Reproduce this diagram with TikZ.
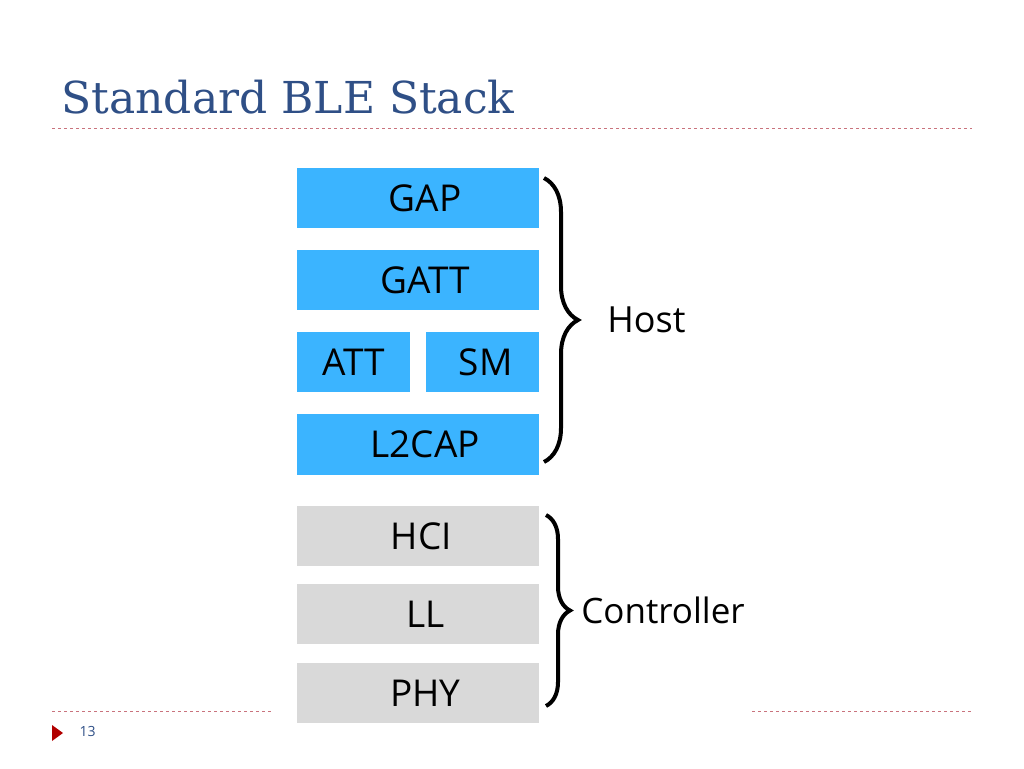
\documentclass[tikz,border=0pt]{standalone}
\usepackage{fontspec}
\setmainfont{DejaVu Serif}
\newfontfamily\labelfont{Open Sans}
\usetikzlibrary{decorations.pathreplacing}
\definecolor{titleblue}{HTML}{2F4F86}
\definecolor{layerblue}{HTML}{3BB4FF}
\definecolor{layergray}{HTML}{D9D9D9}
\definecolor{rulered}{HTML}{C9737D}
\tikzset{
  layer/.style={draw=none,anchor=north west,inner sep=0,font=\labelfont\fontsize{37}{40}\selectfont},
  host/.style={layer,fill=layerblue},
  ctrl/.style={layer,fill=layergray},
  bracket/.style={decorate,decoration={brace,amplitude=#1},line width=4pt},
  rule/.style={rulered,dashed,line width=0.8pt}
}
\begin{document}
\begin{tikzpicture}[x=1pt,y=-1pt]
  \useasboundingbox (0,0) rectangle (1024,768);
  % title and rules
  \node[anchor=west,titleblue,font=\fontsize{44}{50}\selectfont] (title) at (58,97) {Standard BLE Stack};
  \draw[rule] (52,128) -- (972,128);
  \draw[rule] (52,711) -- (272,711);
  \draw[rule] (752,711) -- (972,711);
  \fill[red!70!black] (52,725) -- (63,733) -- (52,741) -- cycle;
  \node[anchor=west,titleblue,font=\labelfont\fontsize{14}{16}\selectfont] (page) at (76,731) {13};
  % host layers
  \node[host,minimum width=242,minimum height=60] (gap) at (297,168) {\hspace{14pt}GAP};
  \node[host,minimum width=242,minimum height=60] (gatt) at (297,250) {\hspace{14pt}GATT};
  \node[host,minimum width=113,minimum height=60] (att) at (297,332) {ATT};
  \node[host,minimum width=113,minimum height=60] (sm) at (426,332) {\hspace{6pt}SM};
  \node[host,minimum width=242,minimum height=61] (l2cap) at (297,414) {\hspace{14pt}L2CAP};
  % controller layers
  \node[ctrl,minimum width=242,minimum height=60] (hci) at (297,506) {\hspace{6pt}HCI};
  \node[ctrl,minimum width=242,minimum height=60] (ll) at (297,584) {\hspace{14pt}LL};
  \node[ctrl,minimum width=242,minimum height=60] (phy) at (297,663) {\hspace{14pt}PHY};
  % braces
  \draw[bracket=34pt] (544,178) -- (544,462) node[midway,right=58pt,font=\labelfont\fontsize{36}{40}\selectfont] (hostlbl) {Host};
  \draw[bracket=24pt] (546,515) -- (546,706) node[midway,right=30pt,font=\labelfont\fontsize{35}{40}\selectfont] (ctrllbl) {Controller};
\end{tikzpicture}
\end{document}
